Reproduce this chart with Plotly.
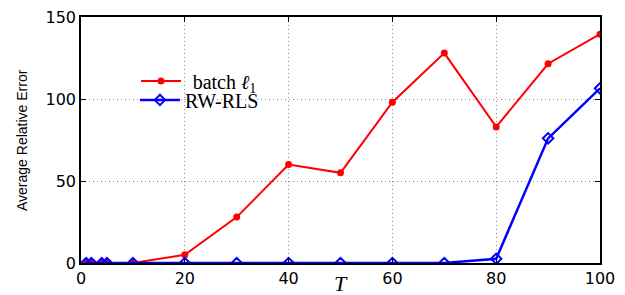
import plotly.graph_objects as go

T = [1, 2, 4, 5, 10, 20, 30, 40, 50, 60, 70, 80, 90, 100]
batch_l1 = [0, 0, 0, 0, 0, 5, 28, 60, 55, 98, 128, 83, 121.5, 139.5]
rw_rls = [0, 0, 0, 0, 0, 0, 0, 0, 0, 0, 0, 2.6, 76, 106.5]
xticks = [0, 20, 40, 60, 80, 100]
yticks = [0, 50, 100, 150]

serif = "Liberation Serif, Times New Roman, serif"
sans = "DejaVu Sans, Arial, sans-serif"

fig = go.Figure()
fig.add_trace(go.Scatter(x=T, y=batch_l1, mode="lines+markers", name="\u2004batch <i>ℓ</i><sub>1</sub>",
                         line=dict(color="#ff0000", width=2), marker=dict(symbol="circle", size=7, color="#ff0000"),
                         legend="legend"))
fig.add_trace(go.Scatter(x=T, y=rw_rls, mode="lines+markers", name="RW-RLS",
                         line=dict(color="#0000ff", width=2.5),
                         marker=dict(symbol="diamond-open", size=8, color="#0000ff", line=dict(width=2)),
                         legend="legend2"))

axfont = dict(family=sans, size=16, color="black")
legfont = dict(family=serif, size=20, color="black")
common_axis = dict(ticks="inside", ticklen=5, tickcolor="black", tickwidth=1,
                   showline=True, linecolor="black", linewidth=1.5, mirror="ticks",
                   showgrid=True, gridcolor="#8a8a8a", griddash="1px,3px", gridwidth=1,
                   tickfont=axfont, zeroline=False, automargin=False)
fig.update_layout(
    width=625, height=295,
    margin=dict(l=81, r=25, t=17, b=32),
    plot_bgcolor="white", paper_bgcolor="white",
    showlegend=True,
    legend=dict(x=0.106, y=0.740, xanchor="left", yanchor="middle", bgcolor="rgba(0,0,0,0)",
                font=legfont, itemwidth=40, borderwidth=0),
    legend2=dict(x=0.104, y=0.663, xanchor="left", yanchor="middle", bgcolor="rgba(0,0,0,0)",
                 font=legfont, itemwidth=40, borderwidth=0),
    xaxis=dict(range=[0, 100], tickvals=xticks, **common_axis),
    yaxis=dict(range=[0, 150], tickvals=yticks, **common_axis),
    annotations=[
        dict(text="<i>T</i>", x=0.5, y=-20 / 246, xref="paper", yref="paper", xanchor="center", yanchor="middle",
             showarrow=False, font=dict(family=serif, size=22, color="black")),
        dict(text="Average Relative Error", x=(22 - 81) / 519, y=0.5, xref="paper", yref="paper", xanchor="center",
             yanchor="middle", showarrow=False, textangle=-90,
             font=dict(family="Liberation Sans Narrow, Liberation Sans, Arial", size=14, color="black")),
    ],
)
fig.write_html("out.html", config={"displayModeBar": False},
               post_script="document.body.style.margin='0px';")
